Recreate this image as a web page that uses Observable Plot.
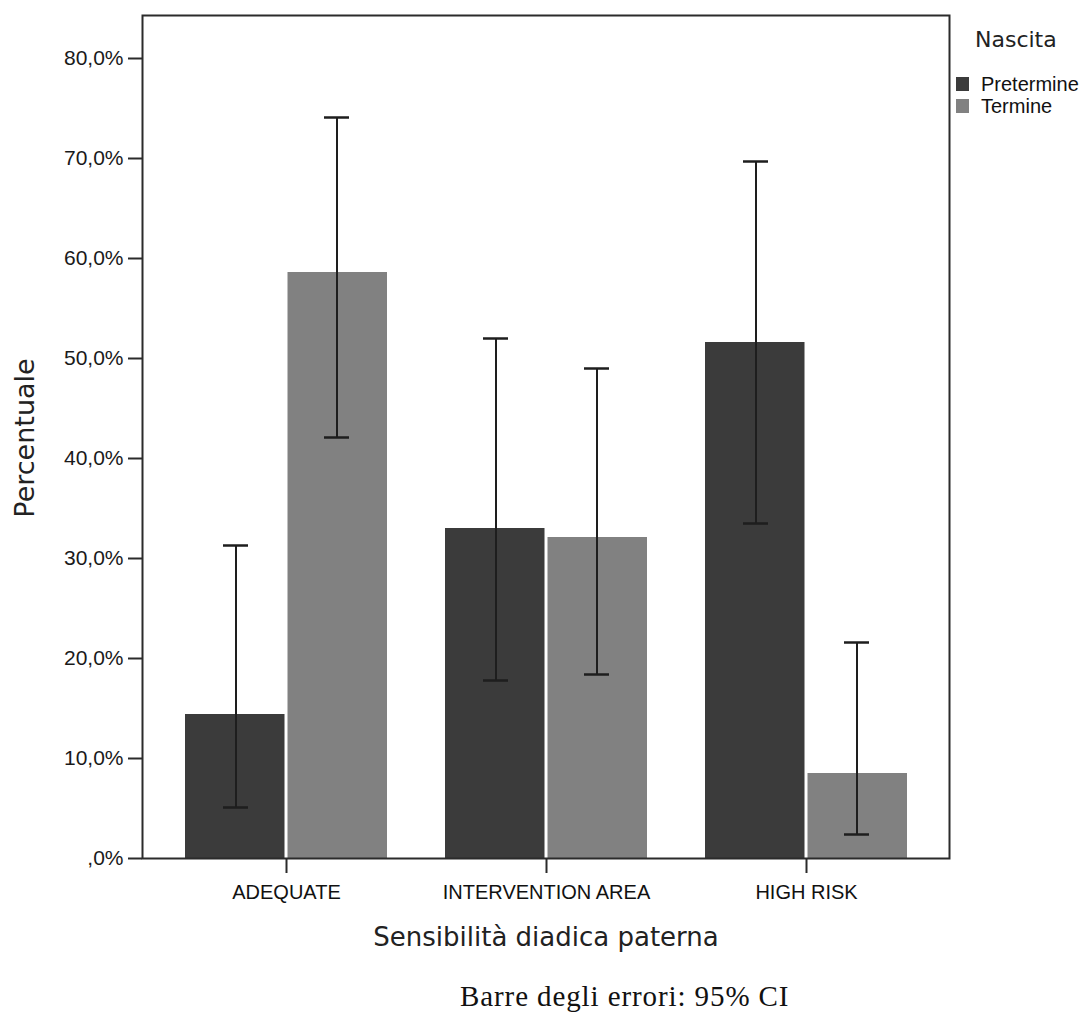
<!DOCTYPE html>
<html>
<head>
<meta charset="utf-8">
<script src="https://cdn.jsdelivr.net/npm/d3@7"></script>
<script src="https://cdn.jsdelivr.net/npm/@observablehq/plot@0.6"></script>
<style>
  html, body { margin: 0; padding: 0; background: #fff; }
  #wrap { position: relative; width: 1090px; height: 1019px; }
  .abs { position: absolute; white-space: nowrap; }
</style>
</head>
<body>
<div id="wrap"></div>
<script>
const categories = ["ADEQUATE", "INTERVENTION AREA", "HIGH RISK"];
const seriesNames = ["Pretermine", "Termine"];
const seriesColors = ["#3b3b3b", "#818181"];
const pretermine = [14.4, 33.0, 51.6];
const pretermineLow = [5.1, 17.8, 33.5];
const pretermineHigh = [31.3, 52.0, 69.7];
const termine = [58.6, 32.1, 8.5];
const termineLow = [42.1, 18.4, 2.4];
const termineHigh = [74.1, 49.0, 21.6];
const yTicks = [0, 10, 20, 30, 40, 50, 60, 70, 80];
const xTitle = "Sensibilità diadica paterna";
const yTitle = "Percentuale";
const legendTitle = "Nascita";
const caption = "Barre degli errori: 95% CI";

const rows = (vals, lo, hi, s) => categories.map((c, i) => ({cat: c, series: s, value: vals[i], lo: lo[i], hi: hi[i]}));
const preRows = rows(pretermine, pretermineLow, pretermineHigh, seriesNames[0]);
const terRows = rows(termine, termineLow, termineHigh, seriesNames[1]);
const caps = (rs) => rs.flatMap(r => [{cat: r.cat, v: r.lo}, {cat: r.cat, v: r.hi}]);

const W = 1090, H = 965;
const mL = 142, mR = 141, mT = 15, mB = H - 858;
const half = 101;
const axisColor = "#2b2b2b";
const errColor = "#1e1e1e";

const fmt = d => d === 0 ? ",0%" : d.toFixed(1).replace(".", ",") + "%";

const plot = Plot.plot({
  width: W,
  height: H,
  marginLeft: mL,
  marginRight: mR,
  marginTop: mT,
  marginBottom: mB,
  style: {background: "#fff", color: "#222"},
  x: {type: "band", domain: categories, paddingInner: 0.2246, paddingOuter: 0.161, label: null},
  y: {domain: [0, 84.3], label: null},
  marks: [
    Plot.barY(preRows, {x: "cat", y: "value", fill: seriesColors[0], insetRight: half + 1.5}),
    Plot.barY(terRows, {x: "cat", y: "value", fill: seriesColors[1], insetLeft: half + 1.5}),
    Plot.ruleX(preRows, {x: "cat", y1: "lo", y2: "hi", dx: -half / 2, stroke: errColor, strokeWidth: 2}),
    Plot.ruleX(terRows, {x: "cat", y1: "lo", y2: "hi", dx: half / 2, stroke: errColor, strokeWidth: 2}),
    Plot.tickY(caps(preRows), {x: "cat", y: "v", insetLeft: 38, insetRight: 139, stroke: errColor, strokeWidth: 2.5}),
    Plot.tickY(caps(terRows), {x: "cat", y: "v", insetLeft: 139, insetRight: 38, stroke: errColor, strokeWidth: 2.5}),
    Plot.frame({stroke: axisColor, strokeWidth: 2}),
    Plot.axisY({ticks: yTicks, tickFormat: fmt, tickSize: 14, tickPadding: 5, stroke: axisColor, strokeWidth: 2,
      fontSize: 21, fontFamily: "Liberation Sans, Arial, sans-serif", fill: "#1a1a1a", label: null}),
    Plot.axisX({tickSize: 15, tickPadding: 11, stroke: axisColor, strokeWidth: 2,
      fontSize: 20, fontFamily: "Liberation Sans, Arial, sans-serif", fill: "#111", label: null}),
    Plot.text([xTitle], {text: d => d, frameAnchor: "bottom", dy: 79, fontSize: 26,
      fontFamily: "DejaVu Sans, sans-serif", fill: "#222", lineAnchor: "middle", textAnchor: "middle"}),
    Plot.text([yTitle], {text: d => d, frameAnchor: "left", dx: -117, dy: 1, rotate: -90, fontSize: 27,
      fontFamily: "DejaVu Sans, sans-serif", fill: "#222", lineAnchor: "middle", textAnchor: "middle"})
  ]
});

const wrap = document.getElementById("wrap");
wrap.appendChild(plot);

// Legend (right side)
const lt = document.createElement("div");
lt.className = "abs";
lt.textContent = legendTitle;
Object.assign(lt.style, {left: "975px", top: "26px", font: "22px 'DejaVu Sans', sans-serif", color: "#222", lineHeight: "28px"});
wrap.appendChild(lt);
seriesNames.forEach((name, i) => {
  const top = 77 + i * 22;
  const sw = document.createElement("div");
  sw.className = "abs";
  Object.assign(sw.style, {left: "956px", top: top + "px", width: "13px", height: "14px", background: seriesColors[i]});
  wrap.appendChild(sw);
  const t = document.createElement("div");
  t.className = "abs";
  t.textContent = name;
  Object.assign(t.style, {left: "981px", top: (top - 4) + "px", font: "20px 'Liberation Sans', Arial, sans-serif", color: "#111", lineHeight: "22px"});
  wrap.appendChild(t);
});

// Caption
const cap = document.createElement("div");
cap.className = "abs";
cap.textContent = caption;
Object.assign(cap.style, {left: "460px", top: "979px", font: "29px 'Liberation Serif', 'Times New Roman', serif", color: "#111", lineHeight: "34px", letterSpacing: "0.9px"});
wrap.appendChild(cap);
</script>
</body>
</html>
